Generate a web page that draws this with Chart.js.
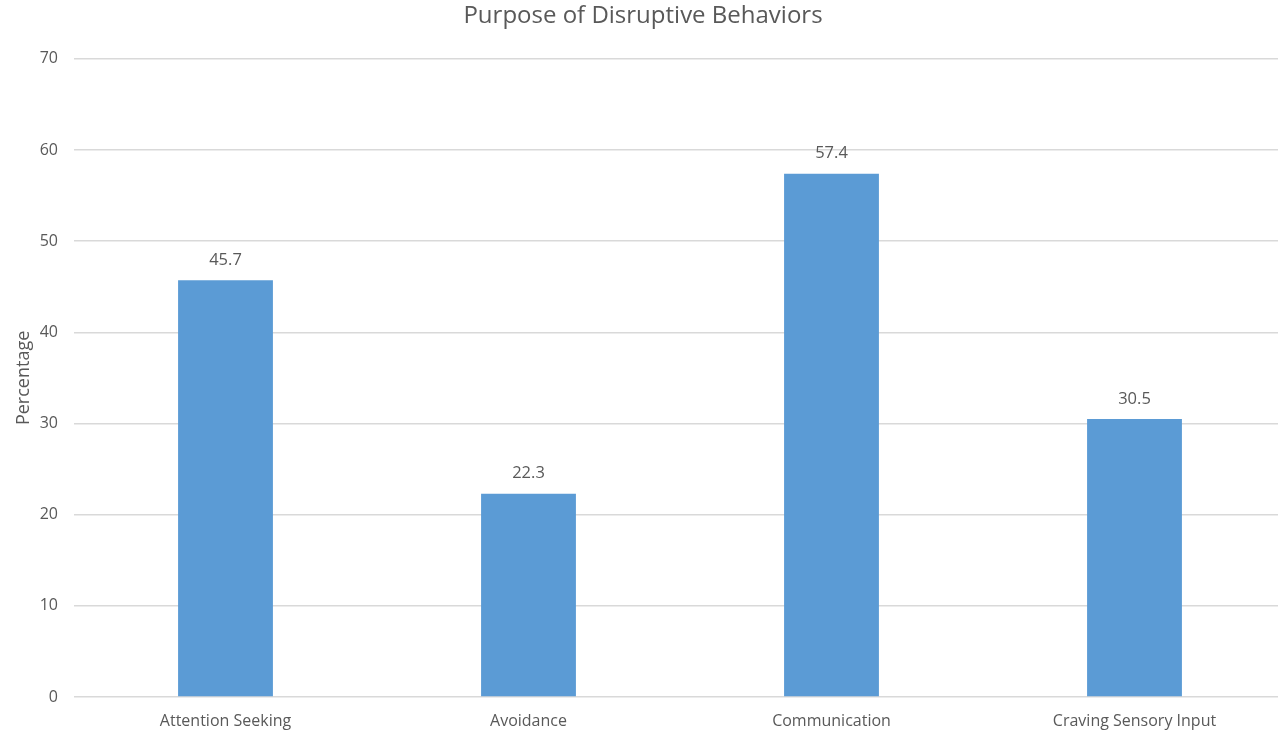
<!DOCTYPE html>
<html>
<head>
<meta charset="utf-8">
<script src="https://cdn.jsdelivr.net/npm/chart.js@4"></script>
<style>
  html, body { margin: 0; padding: 0; background: #fff; overflow: hidden; }
  /* plot runs slightly past the right edge of the window */
  #wrap { width: 1286px; height: 732px; }
</style>
</head>
<body>
<div id="wrap"><canvas id="chartPurpose"></canvas></div>
<script>
// Purpose of disruptive behaviors (percent of responses)
const categories = ['Attention Seeking', 'Avoidance', 'Communication', 'Craving Sensory Input'];
const percentages = [45.7, 22.3, 57.4, 30.5];
const yTicks = [0, 10, 20, 30, 40, 50, 60, 70];

const _bar   = '#5B9BD5';
const _text  = '#595959';
const _grid  = '#D9D9D9';
const _font  = '"Open Sans", "Liberation Sans", Arial, sans-serif';

Chart.defaults.font.family = _font;
Chart.defaults.color = _text;

// value labels above each bar
const valueLabels = {
  id: 'valueLabels',
  afterDatasetsDraw(chart) {
    const ctx = chart.ctx;
    const meta = chart.getDatasetMeta(0);
    ctx.save();
    ctx.font = '16.5px ' + _font;
    ctx.fillStyle = _text;
    ctx.textAlign = 'center';
    ctx.textBaseline = 'middle';
    meta.data.forEach((bar, i) => {
      ctx.fillText(percentages[i].toFixed(1), bar.x, bar.y - 20);
    });
    ctx.restore();
  }
};

new Chart(document.getElementById('chartPurpose'), {
  type: 'bar',
  data: {
    labels: categories,
    datasets: [{
      data: percentages,
      backgroundColor: _bar,
      borderWidth: 0,
      categoryPercentage: 1,
      barPercentage: 0.313
    }]
  },
  options: {
    responsive: true,
    maintainAspectRatio: false,
    animation: false,
    layout: { padding: 0 },
    plugins: {
      legend: { display: false },
      tooltip: { enabled: false },
      title: {
        display: true,
        text: 'Purpose of Disruptive Behaviors',
        color: _text,
        font: { size: 24, weight: 'normal' },
        padding: { top: 2, bottom: 28 }
      }
    },
    scales: {
      x: {
        grid: { display: false, drawTicks: false },
        border: { display: false },
        ticks: { color: _text, font: { size: 16 }, padding: 15, maxRotation: 0 },
        afterFit(scale) { scale.height = 35; }
      },
      y: {
        min: 0,
        max: 70,
        afterBuildTicks(scale) { scale.ticks = yTicks.map(v => ({ value: v })); },
        afterFit(scale) { scale.width = 74; },
        grid: { color: _grid, lineWidth: 1.5, drawTicks: false },
        border: { display: false },
        ticks: { color: _text, font: { size: 16 }, padding: 16 },
        title: {
          display: true,
          text: 'Percentage',
          color: _text,
          font: { size: 18 },
          padding: { top: 13, bottom: 0 }
        }
      }
    }
  },
  plugins: [valueLabels]
});
</script>
</body>
</html>
